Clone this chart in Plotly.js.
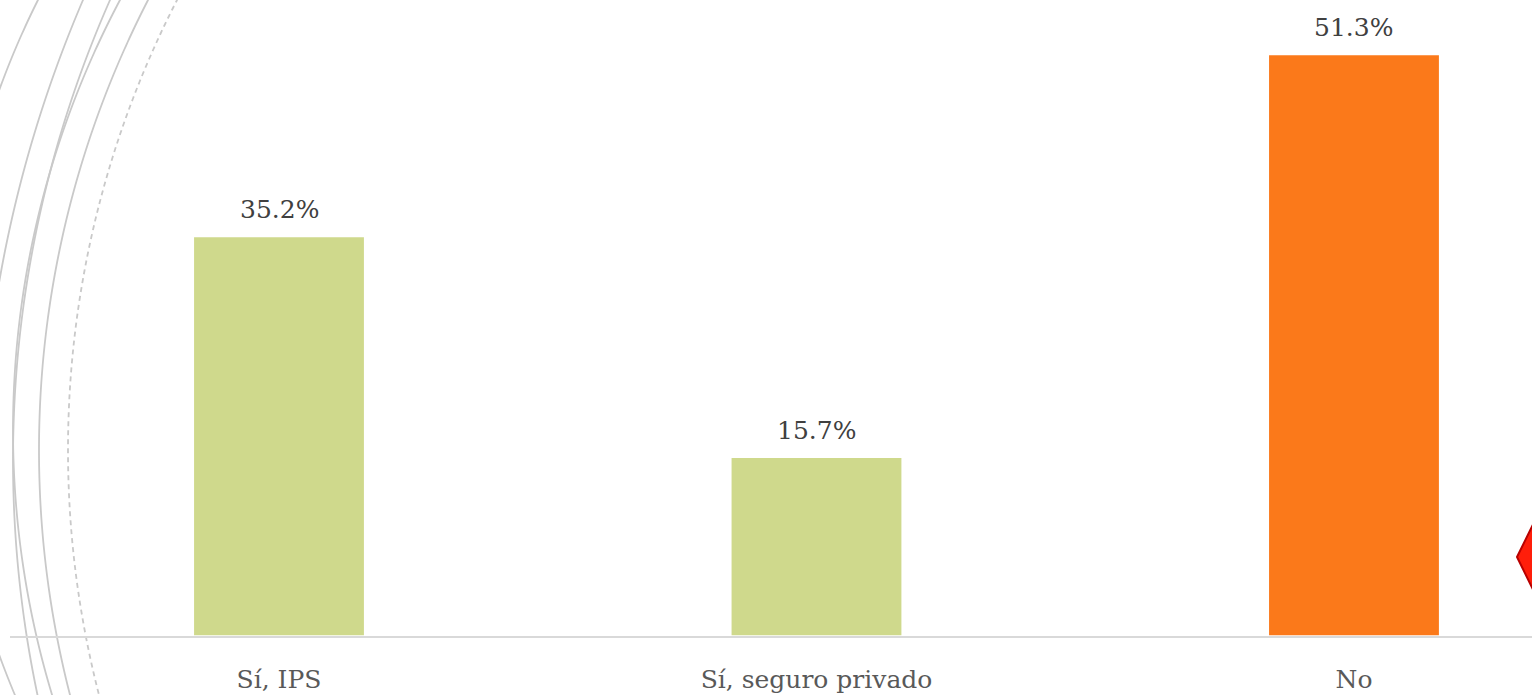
<!DOCTYPE html>
<html>
<head>
<meta charset="utf-8">
<script src="https://cdn.plot.ly/plotly-3.0.1.min.js"></script>
<style>
  html, body { margin: 0; padding: 0; background: #ffffff; }
  #chart { width: 1532px; height: 695px; }
</style>
</head>
<body>
<div id="chart"></div>
<script>
// ---- data ----
const categories = ["Sí, IPS", "Sí, seguro privado", "No"];
const values = [35.2, 15.7, 51.3];
const valueLabels = ["35.2%", "15.7%", "51.3%"];
const barColors = ["#cfd98c", "#cfd98c", "#fb791a"];

// ---- figure geometry (pixels) ----
const W = 1532, H = 695;
const px = (x) => x / W;
const py = (y) => 1 - y / H;

// decorative theme arcs on the left (pixel circle params)
function arcPath(cx, cy, R) {
  let d = "";
  for (let y = -10; y <= H + 10; y += 4) {
    const s = R * R - (y - cy) * (y - cy);
    if (s < 0) continue;
    const x = cx - Math.sqrt(s);
    d += (d ? " L " : "M ") + px(x).toFixed(5) + "," + py(y).toFixed(5);
  }
  return d;
}
const arcLine = { color: "#c9c9c9", width: 1.8 };
const shapes = [
  { type: "path", xref: "paper", yref: "paper", layer: "below", path: arcPath(779.7, 372.5, 830), line: arcLine },
  { type: "path", xref: "paper", yref: "paper", layer: "below", path: arcPath(1248.7, 500, 1268.4), line: arcLine },
  { type: "path", xref: "paper", yref: "paper", layer: "below", path: arcPath(13 + 1139, 460, 1139), line: arcLine },
  { type: "path", xref: "paper", yref: "paper", layer: "below", path: arcPath(13 + 917.5, 430, 917.5), line: arcLine },
  { type: "path", xref: "paper", yref: "paper", layer: "below", path: arcPath(39 + 983, 450, 983), line: arcLine },
  { type: "path", xref: "paper", yref: "paper", layer: "below", path: arcPath(68 + 983, 450, 983), line: { color: "#c9c9c9", width: 1.8, dash: "5px,4px" } },
  // red diamond at the right edge
  { type: "path", xref: "paper", yref: "paper", layer: "above",
    path: "M " + px(1517) + "," + py(557) + " L " + px(1545) + "," + py(500) + " L " + px(1573) + "," + py(557) + " L " + px(1545) + "," + py(614) + " Z",
    fillcolor: "#ff1e0a", line: { color: "#b80000", width: 2 } }
];

const trace = {
  type: "bar",
  x: categories,
  y: values,
  marker: { color: barColors },
  hoverinfo: "skip",
  showlegend: false
};

const annotations = categories.map((c, i) => ({
  x: c, y: values[i], xref: "x", yref: "y",
  text: valueLabels[i],
  showarrow: false, yanchor: "bottom", yshift: 11,
  font: { family: "DejaVu Serif", size: 25, color: "#404040" }
}));

const layout = {
  width: W, height: H,
  margin: { l: 0, r: 0, t: 0, b: 0, pad: 0 },
  paper_bgcolor: "#ffffff",
  plot_bgcolor: "rgba(0,0,0,0)",
  bargap: 0.684,
  xaxis: {
    type: "category",
    domain: [10.25 / W, 1],
    range: [-0.5, 2.3312],
    showline: true, linecolor: "#d9d9d9", linewidth: 2,
    showgrid: false, zeroline: false, ticks: "",
    ticklabelstandoff: 20,
    tickfont: { family: "DejaVu Serif", size: 25, color: "#595959" },
    fixedrange: true
  },
  yaxis: {
    domain: [1 - 635.5 / H, 1 - 2.0 / H],
    range: [0, 56],
    visible: false, showgrid: false, zeroline: false,
    fixedrange: true
  },
  shapes: shapes,
  annotations: annotations
};

Plotly.newPlot("chart", [trace], layout, { displayModeBar: false, staticPlot: true });
</script>
</body>
</html>
